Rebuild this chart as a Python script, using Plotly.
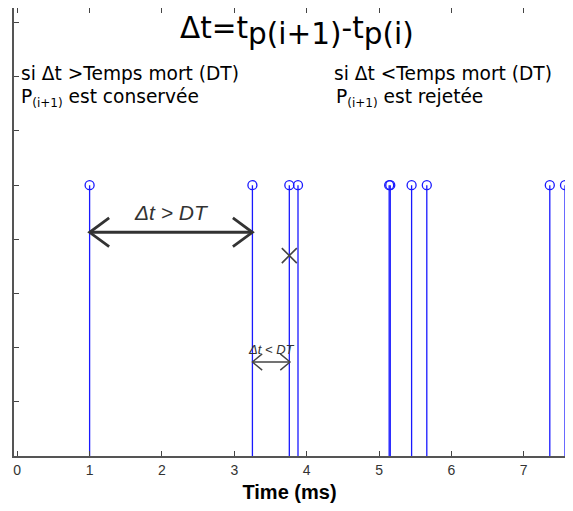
import plotly.graph_objects as go

# ---- data ----
pulse_times = [1.0, 3.25, 3.76, 3.88, 5.14, 5.155, 5.45, 5.66, 7.36, 7.57]
pulse_heights = [1, 1, 1, 1, 1, 1, 1, 1, 1, 1]
x_ticks = [0, 1, 2, 3, 4, 5, 6, 7]
y_ticks = [0, 0.2, 0.4, 0.6, 0.8, 1.0, 1.2, 1.4, 1.6]
rejected_time = 3.76
rejected_y = 0.74
big_arrow = dict(x0=1.0, x1=3.25, y=0.826, dx=0.27, dy=0.053)
small_arrow = dict(x0=3.25, x1=3.77, y=0.347, dx=0.135, dy=0.03)

BLUE = "rgb(25,25,255)"
DARK = "#333333"

# page offset (body margin) and plot-area geometry in screen pixels
OFF = 8
VIS_W = 565  # visible width (scrollbar takes the rest)
PL, PR, PT, PB = 14, VIS_W, 8, 456


def px(xs):
    return (xs - PL) / (PR - PL)


def py(ys):
    return (PB - ys) / (PB - PT)


fig = go.Figure()

# stems
sx, sy = [], []
for t, h in zip(pulse_times, pulse_heights):
    sx += [t, t, None]
    sy += [0, h, None]
fig.add_trace(go.Scatter(x=sx, y=sy, mode="lines",
                         line=dict(color=BLUE, width=1.3),
                         hoverinfo="skip", showlegend=False))
fig.add_trace(go.Scatter(x=pulse_times, y=pulse_heights, mode="markers",
                         marker=dict(symbol="circle-open", size=9, color=BLUE,
                                     line=dict(color=BLUE, width=1.3)),
                         showlegend=False))

# rejected marker
fig.add_trace(go.Scatter(x=[rejected_time], y=[rejected_y], mode="markers",
                         marker=dict(symbol="x-thin", size=15, color="#444444",
                                     line=dict(color="#444444", width=1.6)),
                         showlegend=False))


def double_arrow(a, width, color):
    xs = [a["x0"], a["x1"], None,
          a["x0"] + a["dx"], a["x0"], a["x0"] + a["dx"], None,
          a["x1"] - a["dx"], a["x1"], a["x1"] - a["dx"]]
    ys = [a["y"], a["y"], None,
          a["y"] + a["dy"], a["y"], a["y"] - a["dy"], None,
          a["y"] + a["dy"], a["y"], a["y"] - a["dy"]]
    fig.add_trace(go.Scatter(x=xs, y=ys, mode="lines",
                             line=dict(color=color, width=width),
                             hoverinfo="skip", showlegend=False))


double_arrow(big_arrow, 2.8, DARK)
double_arrow(small_arrow, 1.4, "#444444")

TXT = dict(family="DejaVu Sans", size=18.6, color="black")
SUB = "<sub><span style='font-size:12px'>(i+1)</span></sub>"
annots = [
    dict(x=(big_arrow["x0"] + big_arrow["x1"]) / 2, y=big_arrow["y"] + 0.025,
         xref="x", yref="y", yanchor="bottom",
         text="<i>Δt > DT</i>", font=dict(family="Liberation Sans", size=21, color=DARK)),
    dict(x=(small_arrow["x0"] + small_arrow["x1"]) / 2, y=small_arrow["y"] + 0.012,
         xref="x", yref="y", yanchor="bottom",
         text="<i>Δt < DT</i>", font=dict(family="Liberation Sans", size=13, color=DARK)),
    dict(x=px(297), y=py(31), xref="paper", yref="paper",
         text="Δt=t<sub><span style='font-size:29.5px'>p(i+1)</span></sub>-t<sub><span style='font-size:29.5px'>p(i)</span></sub>",
         font=dict(family="DejaVu Sans", size=29.5, color="black")),
    dict(x=px(19), y=py(73), xref="paper", yref="paper", xanchor="left",
         text="si Δt >Temps mort (DT)", font=TXT),
    dict(x=px(19), y=py(98), xref="paper", yref="paper", xanchor="left",
         text="P" + SUB + " est conservée", font=TXT),
    dict(x=px(332), y=py(73), xref="paper", yref="paper", xanchor="left",
         text="si Δt <Temps mort (DT)", font=TXT),
    dict(x=px(334), y=py(98), xref="paper", yref="paper", xanchor="left",
         text="P" + SUB + " est rejetée", font=TXT),
]
for a in annots:
    a.setdefault("showarrow", False)
    a.setdefault("yanchor", "middle")
    fig.add_annotation(**a)

W, H = VIS_W - OFF, 511 - 2 * OFF
fig.update_layout(
    width=W, height=H,
    margin=dict(l=PL - OFF, r=W - (PR - OFF), t=PT - OFF, b=H - (PB - OFF)),
    plot_bgcolor="white", paper_bgcolor="white",
    showlegend=False,
    xaxis=dict(range=[-0.045, 7.57], tickvals=x_ticks, ticktext=[str(v) for v in x_ticks],
               ticks="inside", ticklen=5, tickcolor="#444", tickwidth=1.2,
               showline=True, linecolor="#555", linewidth=1.5, mirror="ticks",
               showgrid=False, zeroline=False,
               tickfont=dict(family="Liberation Sans", size=14, color="#333"),
               title=dict(text="<b>Time (ms)</b>", standoff=9,
                          font=dict(family="Liberation Sans", size=20, color="black")),
               automargin=False),
    yaxis=dict(range=[0, 1.654], tickvals=y_ticks, showticklabels=False,
               ticks="inside", ticklen=5, tickcolor="#444", tickwidth=1.2,
               showline=True, linecolor="#555", linewidth=1.5, mirror=False,
               showgrid=False, zeroline=False, automargin=False),
)

fig.write_html("out.html")
